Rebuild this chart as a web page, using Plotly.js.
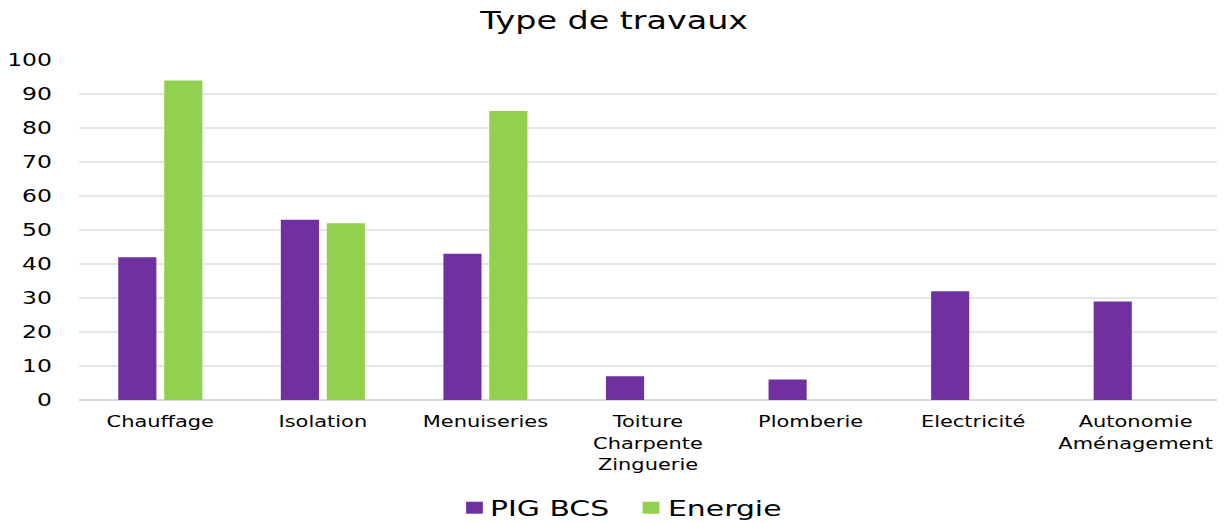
<!DOCTYPE html>
<html><head><meta charset="utf-8">
<script src="https://cdn.plot.ly/plotly-3.0.1.min.js"></script>
<style>body{margin:0;background:#fff}#c{width:1228px;height:523px}</style>
</head><body><div id="c"></div>
<script>
var categories = ["Chauffage","Isolation","Menuiseries","Toiture<br>Charpente<br>Zinguerie","Plomberie","Electricité","Autonomie<br>Aménagement"];
var pigBcs = [42,53,43,7,6,32,29];
var energie = [94,52,85,null,null,null,null];
var yTicks = [0,10,20,30,40,50,60,70,80,90,100];

var font = "DejaVu Sans, Verdana, sans-serif";
var data = [
  {type:"bar", name:"PIG BCS", x:categories, y:pigBcs, marker:{color:"#7030A0"}},
  {type:"bar", name:"Energie", x:categories, y:energie, marker:{color:"#92D050"}}
];
var layout = {
  width:1228, height:523,
  margin:{l:79, r:11, t:60, b:123},
  paper_bgcolor:"#fff", plot_bgcolor:"#fff",
  title:{text:"Type de travaux", font:{family:font, size:24, color:"#000"}, x:0.5, xanchor:"center", y:0.96, yanchor:"middle"},
  barmode:"group", bargap:0.435, bargroupgap:0.17,
  font:{family:font, color:"#000"},
  xaxis:{tickfont:{family:font, size:16.5, color:"#000"}, showline:false, showgrid:false, ticks:"", ticklabelstandoff:10, automargin:false},
  yaxis:{range:[0,100], tickvals:yTicks, tickfont:{family:font, size:17.4, color:"#000"}, gridcolor:"#e6e6e6", gridwidth:1.5, zeroline:true, zerolinecolor:"#d9d9d9", zerolinewidth:1.5, showline:false, ticks:"", ticklabelstandoff:26, automargin:false},
  legend:{orientation:"h", x:0.5, xanchor:"center", yref:"container", y:0.029, yanchor:"middle", entrywidth:150, font:{family:font, size:20.6, color:"#000"}},
  showlegend:true
};

function stretch(sel, s) {
  document.querySelectorAll(sel).forEach(function(t){
    var bb = t.getBBox();
    var anchor = t.getAttribute('text-anchor') || 'start';
    var cx = anchor === 'middle' ? bb.x + bb.width/2 : (anchor === 'end' ? bb.x + bb.width : bb.x);
    var tr = t.getAttribute('transform') || '';
    t.setAttribute('transform', tr + ' translate(' + cx + ',0) scale(' + s + ',1) translate(' + (-cx) + ',0)');
  });
}
function parseTr(str) {
  var m = /translate\(\s*([-\d.e]+)[ ,]+([-\d.e]+)\s*\)/.exec(str || '');
  return m ? [parseFloat(m[1]), parseFloat(m[2])] : [0,0];
}

Plotly.newPlot("c", data, layout, {displayModeBar:false, staticPlot:true}).then(function(){
  stretch('.gtitle', 1.39);
  stretch('.xtick text', 1.27);
  stretch('.ytick text', 1.35);
  var sb = document.querySelector('.legend .scrollbox');
  if (sb) sb.removeAttribute('clip-path');
  var symCenters = [474.5, 651];
  var textStarts = [490, 668];
  var traces = document.querySelectorAll('.legend .traces');
  traces.forEach(function(tr, i){
    var pt = tr.querySelector('.legendpoints path');
    if (pt) {
      var r = pt.getBoundingClientRect();
      var d = symCenters[i] - (r.left + r.width/2);
      var p = parseTr(tr.getAttribute('transform'));
      tr.setAttribute('transform', 'translate(' + (p[0] + d) + ',' + p[1] + ')');
      pt.setAttribute('transform', (pt.getAttribute('transform') || '') + ' scale(1.4,1)');
    }
    var tx = tr.querySelector('.legendtext');
    if (tx) {
      var r2 = tx.getBoundingClientRect();
      var x0 = parseFloat(tx.getAttribute('x') || 0);
      tx.setAttribute('x', x0 + (textStarts[i] - r2.left));
    }
  });
  stretch('.legendtext', 1.45);
});
</script>
</body></html>
